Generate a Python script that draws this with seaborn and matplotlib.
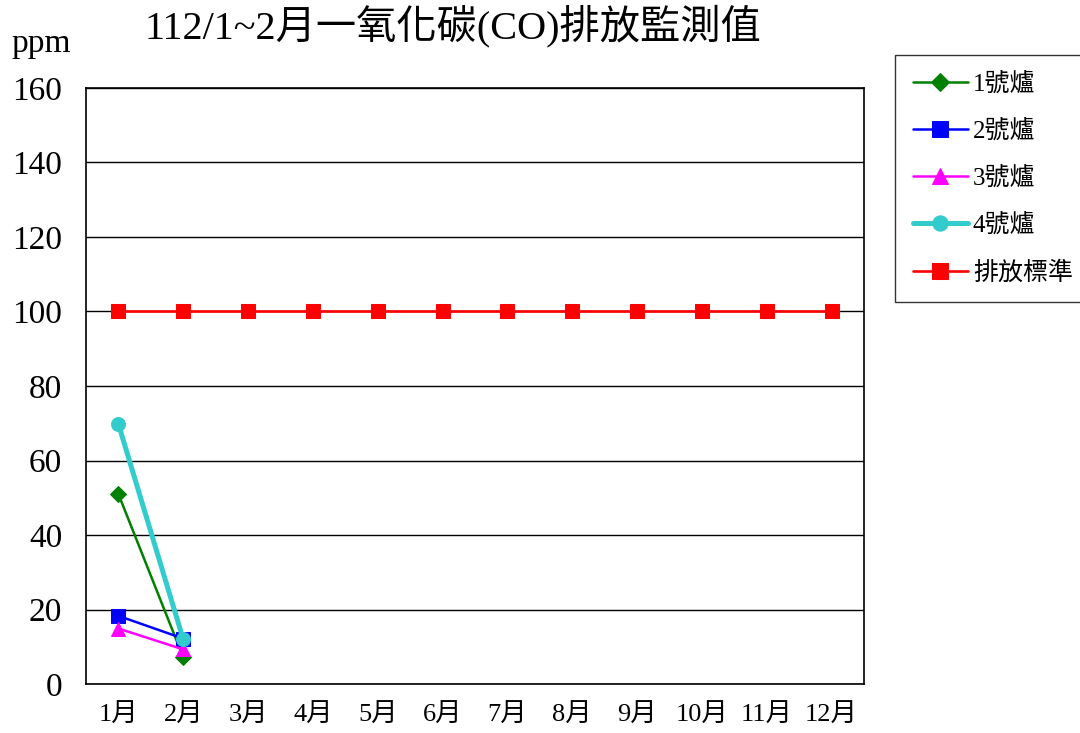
import numpy as np
import pandas as pd
import seaborn as sns
from matplotlib import pyplot as plt

months = ["1月", "2月", "3月", "4月", "5月", "6月", "7月", "8月", "9月", "10月", "11月", "12月"]
furnace1 = [51, 7.2]
furnace2 = [18.3, 12.2]
furnace3 = [14.9, 9.3]
furnace4 = [69.8, 12.0]
standard = [100] * 12
y_ticks = [0, 20, 40, 60, 80, 100, 120, 140, 160]

title = "112/1~2月一氧化碳(CO)排放監測值"

series = [
    ("1號爐", furnace1, "#008000", "D", 8, 1.8),
    ("2號爐", furnace2, "#0000ff", "s", 10, 1.8),
    ("3號爐", furnace3, "#ff00ff", "^", 10, 1.8),
    ("4號爐", furnace4, "#33cccc", "o", 10, 3.6),
    ("排放標準", standard, "#ff0000", "s", 10, 1.9),
]


def main():
    sns.set_style("white")
    fonts = ["Liberation Serif", "Noto Sans CJK TC", "DejaVu Sans"]
    plt.rcParams["font.family"] = fonts
    plt.rcParams["text.color"] = "black"
    plt.rcParams["xtick.color"] = "black"
    plt.rcParams["ytick.color"] = "black"
    plt.rcParams["xtick.labelcolor"] = "black"
    plt.rcParams["ytick.labelcolor"] = "black"

    fig = plt.figure(figsize=(10.8, 7.33), dpi=100)
    ax = fig.add_axes([0.0796, 0.0668, 0.7204, 0.8132])

    for name, vals, color, marker, ms, lw in series:
        df = pd.DataFrame({"month": np.arange(len(vals)), "value": vals})
        sns.lineplot(data=df, x="month", y="value", ax=ax, color=color,
                     marker=marker, markersize=ms, linewidth=lw,
                     markeredgecolor=color, label=name, estimator=None,
                     sort=False)

    ax.set_xlim(-0.5, len(months) - 0.5)
    ax.set_ylim(0, 160)
    ax.set_yticks(y_ticks)
    ax.set_yticklabels([str(v) for v in y_ticks], fontsize=24)
    ax.set_xticks(np.arange(len(months)))
    ax.set_xticklabels(months, fontsize=19)
    ax.set_xticks(np.arange(len(months) + 1) - 0.5, minor=True)
    ax.tick_params(axis="x", which="major", length=0, pad=14)
    ax.tick_params(axis="x", which="minor", direction="in", length=7,
                   width=1, color="#333333")
    ax.tick_params(axis="y", which="major", direction="in", length=0, pad=17)
    ax.set_xlabel("")
    ax.set_ylabel("")

    ax.grid(axis="y", color="#000000", linewidth=1)
    ax.grid(axis="x", visible=False)
    for s in ax.spines.values():
        s.set_color("#000000")
        s.set_linewidth(1.2)

    fig.text(0.011, 0.92, "ppm", fontsize=24, family=fonts, ha="left", va="bottom")
    fig.text(0.419, 0.935, title, fontsize=29, family=fonts, ha="center", va="bottom")

    leg = ax.legend(loc="upper left", bbox_to_anchor=(0.829, 0.925),
                    bbox_transform=fig.transFigure, fontsize=18,
                    frameon=True, fancybox=False, handlelength=2.2,
                    labelspacing=0.95, borderpad=0.7, handletextpad=0.2,
                    borderaxespad=0, markerscale=1.1)
    leg.get_frame().set_edgecolor("#000000")
    leg.get_frame().set_linewidth(1)

    fig.savefig("out.png", dpi=100)


if __name__ == '__main__':
    main()
